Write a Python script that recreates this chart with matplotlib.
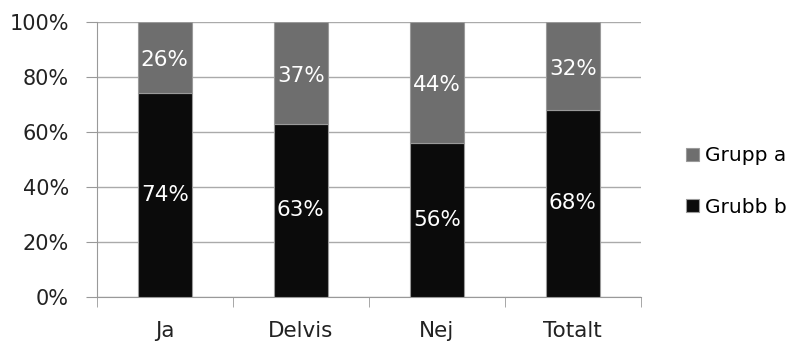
import matplotlib.pyplot as plt
import numpy as np

categories = ['Ja', 'Delvis', 'Nej', 'Totalt']
grubb_b = [74, 63, 56, 68]
grupp_a = [26, 37, 44, 32]
yticks = [0, 20, 40, 60, 80, 100]

fig = plt.figure(figsize=(8, 3.49), dpi=100)
ax = fig.add_axes([0.121, 0.149, 0.68, 0.788])

x = np.arange(len(categories))
w = 0.4
bb = ax.bar(x, grubb_b, w, color='#0b0b0b', edgecolor='#9a9a9a', linewidth=0.8,
            label='Grubb b', zorder=3)
ba = ax.bar(x, grupp_a, w, bottom=grubb_b, color='#6e6e6e', edgecolor='#9a9a9a',
            linewidth=0.8, label='Grupp a', zorder=3)

for i in range(len(categories)):
    ax.text(x[i], grubb_b[i] / 2, f'{grubb_b[i]}%', ha='center', va='center',
            color='white', fontsize=15.5, zorder=4)
    ax.text(x[i], grubb_b[i] + grupp_a[i] / 2 - 1, f'{grupp_a[i]}%', ha='center',
            va='center', color='white', fontsize=15.5, zorder=4)

ax.set_xlim(-0.5, len(categories) - 0.5)
ax.set_ylim(0, 100)
ax.set_yticks(yticks)
ax.set_yticklabels([f'{t}%' for t in yticks], fontsize=15, color='#222222')
ax.set_xticks(x)
ax.set_xticklabels(categories, fontsize=15.5, color='#222222')
ax.set_xticks(np.arange(len(categories) + 1) - 0.5, minor=True)
ax.tick_params(axis='x', which='major', length=0, pad=17)
ax.tick_params(axis='x', which='minor', length=7, color='#999999')
ax.tick_params(axis='y', length=8, color='#999999', pad=12)
ax.grid(axis='y', color='#aaaaaa', linewidth=1, zorder=0)
for s in ['top', 'right']:
    ax.spines[s].set_visible(False)
for s in ['left', 'bottom']:
    ax.spines[s].set_color('#999999')

handles = [ba, bb]
fig.legend(handles, ['Grupp a', 'Grubb b'], loc='center left',
           bbox_to_anchor=(0.848, 0.48), frameon=False, fontsize=14.5,
           handlelength=0.6, handleheight=0.6, labelspacing=1.6, handletextpad=0.3,
           borderaxespad=0)

fig.savefig('out.png', dpi=100)
